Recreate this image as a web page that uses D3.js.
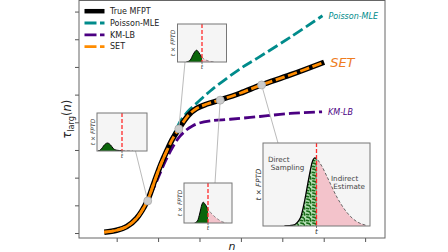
<!DOCTYPE html>
<html>
<head>
<meta charset="utf-8">
<script src="https://cdn.jsdelivr.net/npm/d3@7"></script>
<style>
body { margin: 0; background: #fff; }
svg { display: block; font-family: 'DejaVu Sans', sans-serif; }
</style>
</head>
<body>
<div id="chart"></div>
<script>
'use strict';
// Main curves, n on x, tau_larg(n) on y
const trueN = [0.70, 1.00, 1.24, 1.48, 1.74, 1.90, 2.07, 2.22, 2.35, 2.50, 2.73, 2.93, 3.18, 3.48, 3.98, 4.49, 5.19, 6.01]
const trueTau = [0.03, 0.10, 0.23, 0.53, 1.16, 1.81, 2.49, 3.00, 3.40, 3.76, 4.25, 4.50, 4.66, 4.80, 5.05, 5.35, 5.71, 6.17]
const setN = trueN
const setTau = trueTau
const mleN = [1.90, 2.07, 2.22, 2.34, 2.46, 2.55, 2.65, 2.77, 2.94, 3.26, 3.66, 4.05, 4.39, 5.21, 5.97]
const mleTau = [1.81, 2.49, 3.00, 3.42, 3.82, 4.07, 4.27, 4.47, 4.70, 5.13, 5.59, 6.00, 6.31, 7.09, 7.85]
const kmN = [1.81, 1.95, 2.07, 2.19, 2.29, 2.41, 2.53, 2.68, 2.82, 2.99, 3.26, 3.74, 4.46, 5.19, 5.96]
const kmTau = [1.37, 1.81, 2.24, 2.64, 2.93, 3.25, 3.50, 3.72, 3.86, 3.97, 4.05, 4.11, 4.21, 4.32, 4.38]
const directUntilN = 2.1 // SET drawn solid where it is pure direct sampling
const markerN = [1.75, 2.5, 3.5, 4.5]
const markerTau = [1.16, 3.76, 4.80, 5.35]
const xTicks = [1, 2, 3, 4, 5, 6, 7]
const yTicks = [0, 1, 2, 3, 4, 5, 6, 7, 8]
const legendNames = ['True MFPT', 'Poisson-MLE', 'KM-LB', 'SET']

// t x FPTD snapshots for the insets (t and height as fraction of the inset)
const insetAT = [0.02, 0.08, 0.14, 0.21, 0.27, 0.33, 0.40, 0.49, 0.60, 0.72]
const insetAV = [0, 0.04, 0.15, 0.21, 0.16, 0.06, 0.02, 0.01, 0.005, 0]
const insetBT = [0.18, 0.26, 0.32, 0.39, 0.44, 0.49, 0.55, 0.63, 0.75]
const insetBV = [0, 0.05, 0.20, 0.31, 0.24, 0.14, 0.07, 0.03, 0]
const insetCT = [0.22, 0.28, 0.33, 0.37, 0.40, 0.44, 0.49, 0.55, 0.62, 0.70, 0.78, 0.88]
const insetCV = [0, 0.05, 0.25, 0.45, 0.52, 0.47, 0.37, 0.27, 0.18, 0.10, 0.04, 0]
const insetDT = [0.20, 0.28, 0.35, 0.39, 0.43, 0.46, 0.486, 0.50, 0.55, 0.60, 0.69, 0.78, 0.88, 0.96]
const insetDV = [0, 0.01, 0.10, 0.31, 0.59, 0.77, 0.82, 0.81, 0.72, 0.59, 0.35, 0.17, 0.05, 0.01]
const cutT = 0.5 // red dashed line: current time t

const teal = '#008b8b'
const purple = '#4b0082'
const orange = '#ff8c00'

const W = 448, H = 252
const svg = d3.select('#chart').append('svg')
    .attr('width', W)
    .attr('height', H)
const plot = {left: 79, right: 385, top: 0.5, bottom: 238}
const x = d3.scaleLinear().domain([0.09, 7.48]).range([plot.left, plot.right])
const y = d3.scaleLinear().domain([-0.18, 8.40]).range([plot.bottom, plot.top])

const zip = (a, b) => a.map((d, i) => [d, b[i]])
const line = d3.line()
    .x(d => x(d[0]))
    .y(d => y(d[1]))
    .curve(d3.curveCatmullRom.alpha(0.5))

const defs = svg.append('defs')
const hatch = defs.append('pattern') // green speckle for direct sampling area
    .attr('id', 'speckle')
    .attr('patternUnits', 'userSpaceOnUse')
    .attr('width', 6).attr('height', 6)
hatch.append('rect').attr('width', 6).attr('height', 6).attr('fill', '#b3dfb3')
hatch.append('path')
    .attr('d', 'M0.8,1 l2.4,0.6 M4.2,2.6 l0.6,2.4 M0.6,4.4 l2,0.4')
    .attr('stroke', '#176b17')
    .attr('stroke-width', 1.6)
    .attr('stroke-linecap', 'round')

// Axes: ticks without labels
svg.append('g')
    .attr('transform', `translate(0, ${plot.bottom})`)
    .call(d3.axisBottom(x).tickValues(xTicks).tickFormat('').tickSize(4))
    .call(g => g.select('.domain').remove())
svg.append('g')
    .attr('transform', `translate(${plot.left}, 0)`)
    .call(d3.axisLeft(y).tickValues(yTicks).tickFormat('').tickSize(4))
    .call(g => g.select('.domain').remove())
svg.selectAll('.tick line').attr('stroke', '#555')
svg.append('rect') // frame
    .attr('x', plot.left).attr('y', plot.top)
    .attr('width', plot.right - plot.left)
    .attr('height', plot.bottom - plot.top)
    .attr('fill', 'none')
    .attr('stroke', '#666')

// Curves
svg.append('path').datum(zip(mleN, mleTau))
    .attr('fill', 'none').attr('stroke', teal)
    .attr('stroke-width', 2.8).attr('stroke-dasharray', '11,4')
    .attr('d', line)
svg.append('path').datum(zip(kmN, kmTau))
    .attr('fill', 'none').attr('stroke', purple)
    .attr('stroke-width', 2.8).attr('stroke-dasharray', '11,4')
    .attr('d', line)
svg.append('path').datum(zip(trueN, trueTau))
    .attr('fill', 'none').attr('stroke', '#000')
    .attr('stroke-width', 5.5).attr('stroke-linecap', 'butt')
    .attr('d', line)
svg.append('path').datum(zip(setN, setTau).filter(d => d[0] <= directUntilN + 0.15))
    .attr('fill', 'none').attr('stroke', orange)
    .attr('stroke-width', 2.8)
    .attr('d', line)
svg.append('path').datum(zip(setN, setTau))
    .attr('fill', 'none').attr('stroke', orange)
    .attr('stroke-width', 2.8).attr('stroke-dasharray', '9.5,3.5')
    .attr('d', line)

// Line end labels
const endLabel = (n, t, txt, color, size) => svg.append('text')
    .attr('x', x(n[n.length - 1]) + 6)
    .attr('y', y(t[t.length - 1]))
    .attr('dy', '0.36em')
    .attr('fill', color)
    .attr('font-size', size)
    .attr('font-style', 'italic')
    .text(txt)
endLabel(mleN, mleTau, 'Poisson-MLE', teal, 8)
endLabel(setN, setTau, 'SET', '#ee7d1f', 13)
endLabel(kmN, kmTau, 'KM-LB', purple, 8)

// Inset boxes (layout) and where their connector lines land
const insets = [
    {x: 97, y: 113, w: 50, h: 38, t: insetAT, v: insetAV, fs: 6, big: false, anchor: [135.5, 151]},
    {x: 177.5, y: 24, w: 49, h: 38, t: insetBT, v: insetBV, fs: 6, big: false, anchor: [185, 62]},
    {x: 184, y: 183, w: 48, h: 40, t: insetCT, v: insetCV, fs: 6, big: false, anchor: [215, 183]},
    {x: 263, y: 143, w: 107, h: 83, t: insetDT, v: insetDV, fs: 7.2, big: true, anchor: [278, 143]}
]

// Connectors from curve markers to insets
svg.append('g').selectAll('line')
    .data(insets).enter().append('line')
    .attr('x1', (d, i) => x(markerN[i]))
    .attr('y1', (d, i) => y(markerTau[i]))
    .attr('x2', d => d.anchor[0])
    .attr('y2', d => d.anchor[1])
    .attr('stroke', '#bbb')
    .attr('stroke-width', 1)
svg.append('g').selectAll('circle')
    .data(markerN).enter().append('circle')
    .attr('cx', d => x(d))
    .attr('cy', (d, i) => y(markerTau[i]))
    .attr('r', 4)
    .attr('fill', '#ccc')
    .attr('stroke', '#aaa')
    .attr('stroke-width', 0.8)

function drawInset(b, k) {
    const g = svg.append('g')
    const tx = d3.scaleLinear().domain([0, 1]).range([b.x, b.x + b.w])
    const vy = d3.scaleLinear().domain([0, 1]).range([b.y + b.h, b.y])
    const pts = zip(b.t, b.v)
    const area = d3.area().x(d => tx(d[0])).y0(vy(0)).y1(d => vy(d[1])).curve(d3.curveMonotoneX)
    const outline = d3.line().x(d => tx(d[0])).y(d => vy(d[1])).curve(d3.curveMonotoneX)
    defs.append('clipPath').attr('id', `left${k}`).append('rect')
        .attr('x', b.x).attr('y', b.y).attr('width', tx(cutT) - b.x).attr('height', b.h)
    defs.append('clipPath').attr('id', `right${k}`).append('rect')
        .attr('x', tx(cutT)).attr('y', b.y).attr('width', b.x + b.w - tx(cutT)).attr('height', b.h)
    g.append('rect')
        .attr('x', b.x).attr('y', b.y).attr('width', b.w).attr('height', b.h)
        .attr('fill', '#f5f5f5')
    g.append('path').datum(pts) // indirect estimate
        .attr('clip-path', `url(#right${k})`)
        .attr('fill', '#f3c3cb')
        .attr('d', area)
    g.append('path').datum(pts)
        .attr('clip-path', `url(#right${k})`)
        .attr('fill', 'none').attr('stroke', '#666')
        .attr('stroke-width', b.big ? 1 : 0.7).attr('stroke-dasharray', '3,2')
        .attr('d', outline)
    g.append('path').datum(pts) // direct sampling
        .attr('clip-path', `url(#left${k})`)
        .attr('fill', b.big ? 'url(#speckle)' : '#0b650b')
        .attr('d', area)
    g.append('path').datum(pts)
        .attr('clip-path', `url(#left${k})`)
        .attr('fill', 'none').attr('stroke', '#000')
        .attr('stroke-width', b.big ? 1.3 : 1)
        .attr('d', outline)
    g.append('line') // current t
        .attr('x1', tx(cutT)).attr('x2', tx(cutT))
        .attr('y1', b.y).attr('y2', b.y + b.h)
        .attr('stroke', '#ff2a2a').attr('stroke-width', 1.3)
        .attr('stroke-dasharray', '4,2')
    g.append('rect')
        .attr('x', b.x).attr('y', b.y).attr('width', b.w).attr('height', b.h)
        .attr('fill', 'none').attr('stroke', '#777').attr('stroke-width', 1)
    g.append('line')
        .attr('x1', tx(cutT)).attr('x2', tx(cutT))
        .attr('y1', b.y + b.h).attr('y2', b.y + b.h + 2)
        .attr('stroke', '#555').attr('stroke-width', 0.8)
    g.append('text') // x label
        .attr('x', tx(cutT)).attr('y', b.y + b.h + (b.big ? 7.8 : 7))
        .attr('text-anchor', 'middle')
        .attr('font-size', b.fs).attr('font-style', 'italic').attr('fill', '#333')
        .text('t')
    const yl = g.append('text') // y label
        .attr('transform', `translate(${b.x - 2.5}, ${b.y + b.h / 2}) rotate(-90)`)
        .attr('text-anchor', 'middle')
        .attr('font-size', b.fs).attr('fill', '#333')
    yl.append('tspan').attr('font-style', 'italic').text('t')
    yl.append('tspan').text(' × ')
    yl.append('tspan').attr('font-style', 'italic').text('FPTD')
    return g
}
const insetGroups = insets.map(drawInset)

// Annotations in the big inset
const big = insets[3]
const note = (txt, dx, dy) => insetGroups[3].append('text')
    .attr('x', big.x + dx).attr('y', big.y + dy)
    .attr('font-size', 7.2).attr('fill', '#444')
    .text(txt)
note('Direct', 5, 18.5)
note('Sampling', 7.7, 27)
note('Indirect', 68, 37.5)
note('Estimate', 70.3, 45.7)

// Legend
const legendColors = ['#000', teal, purple, orange]
const legend = svg.append('g')
legendNames.forEach((name, i) => {
    const ly = 11.2 + i * 11.8
    legend.append('line')
        .attr('x1', 84.5).attr('x2', 104.5)
        .attr('y1', ly).attr('y2', ly)
        .attr('stroke', legendColors[i])
        .attr('stroke-width', i === 0 ? 4.5 : 2.8)
        .attr('stroke-dasharray', i === 0 ? null : '12,3.5')
    legend.append('text')
        .attr('x', 110).attr('y', ly)
        .attr('dy', '0.36em')
        .attr('font-size', 8).attr('fill', '#222')
        .text(name)
})

// Axis labels
svg.append('text')
    .attr('x', (plot.left + plot.right) / 2).attr('y', 249.5)
    .attr('text-anchor', 'middle')
    .attr('font-size', 11).attr('font-style', 'italic').attr('fill', '#222')
    .text('n')
const ylab = svg.append('text')
    .attr('transform', `translate(71, ${(plot.top + plot.bottom) / 2}) rotate(-90)`)
    .attr('text-anchor', 'middle')
    .attr('font-size', 11.5).attr('fill', '#222')
ylab.append('tspan').attr('font-style', 'italic').text('τ')
ylab.append('tspan').attr('font-size', 8.2).attr('dy', 2.5).text('larg')
ylab.append('tspan').attr('dy', -2.5).text('(')
ylab.append('tspan').attr('font-style', 'italic').text('n')
ylab.append('tspan').text(')')
</script>
</body>
</html>
